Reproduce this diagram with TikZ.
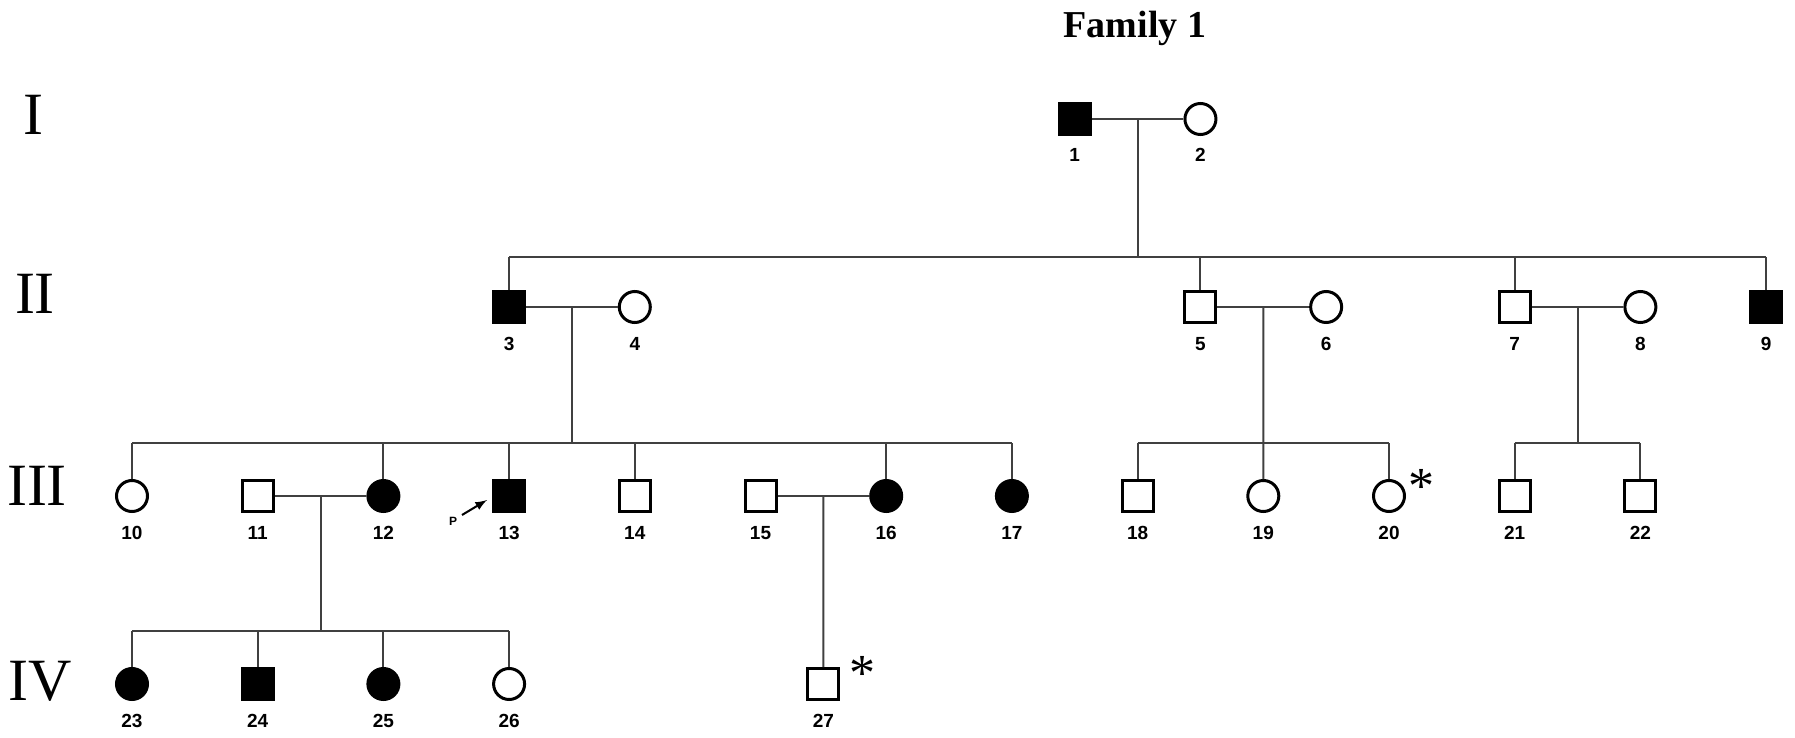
\documentclass[tikz,border=0pt]{standalone}
\usepackage{fontspec}
\setmainfont{Liberation Serif}
\setsansfont{Liberation Sans}
\usetikzlibrary{arrows,shapes,positioning,calc}

\tikzset{
  male/.style={draw,rectangle,minimum size=15.5pt,inner sep=0pt,line width=1.5pt},
  female/.style={draw,circle,minimum size=15.5pt,inner sep=0pt,line width=1.5pt},
  aff/.style={fill=black},
  num/.style={font=\sffamily\bfseries\fontsize{9.5}{9.5}\selectfont,inner sep=0pt,text height=6.8pt,text depth=0pt},
  rel/.style={line width=1pt,draw=black!75},
  gen/.style={font=\fontsize{30}{30}\selectfont,anchor=base,inner sep=0pt},
  ast/.style={font=\fontsize{26}{26}\selectfont,anchor=base,inner sep=0pt}
}

\begin{document}
\begin{tikzpicture}[x=0.5pt,y=-0.5pt,node distance=62.85pt,label distance=6pt,every label/.style={num}]
  \useasboundingbox (0,0) rectangle (1795,738);

  \node[font=\bfseries\fontsize{19}{19}\selectfont,anchor=base,inner sep=0pt] (title) at (1135,38) {Family 1};

  % generations
  \node[gen] (g1) at (33,134) {I};
  \node[gen] (g2) at (35,313) {II};
  \node[gen] (g3) at (37,505) {III};
  \node[gen] (g4) at (40,700) {IV};

  \coordinate (s2) at (0,257);
  \coordinate (s3) at (0,443);
  \coordinate (s4) at (0,631);

  % I
  \node[male,aff,label=below:1] (p1) at (1074.75,119) {};
  \node[female,right of=p1,label=below:2] (p2) {};

  % II
  \node[male,aff,label=below:3] (p3) at (509.1,307) {};
  \node[female,right of=p3,label=below:4] (p4) {};
  \node[male,label=below:5] (p5) at (1200.45,307) {};
  \node[female,right of=p5,label=below:6] (p6) {};
  \node[male,label=below:7] (p7) at (1514.7,307) {};
  \node[female,right of=p7,label=below:8] (p8) {};
  \node[male,aff,right of=p8,label=below:9] (p9) {};

  % III
  \node[female,label=below:10] (p10) at (132,496) {};
  \node[male,right of=p10,label=below:11] (p11) {};
  \node[female,aff,right of=p11,label=below:12] (p12) {};
  \node[male,aff,right of=p12,label=below:13] (p13) {};
  \node[male,right of=p13,label=below:14] (p14) {};
  \node[male,right of=p14,label=below:15] (p15) {};
  \node[female,aff,right of=p15,label=below:16] (p16) {};
  \node[female,aff,right of=p16,label=below:17] (p17) {};
  \node[male,right of=p17,label=below:18] (p18) {};
  \node[female,right of=p18,label=below:19] (p19) {};
  \node[female,right of=p19,label=below:20] (p20) {};
  \node[male,right of=p20,label=below:21] (p21) {};
  \node[male,right of=p21,label=below:22] (p22) {};

  % IV
  \node[female,aff,label=below:23] (p23) at (132,684) {};
  \node[male,aff,right of=p23,label=below:24] (p24) {};
  \node[female,aff,right of=p24,label=below:25] (p25) {};
  \node[female,right of=p25,label=below:26] (p26) {};
  \node[male,label=below:27] (p27) at (823.35,684) {};

  % I -> II
  \draw[rel] (p1) -- coordinate (m1) (p2);
  \draw[rel] (m1) -- (m1 |- s2);
  \draw[rel] (p3 |- s2) -- (p9 |- s2);
  \draw[rel] (p3) -- (p3 |- s2);
  \draw[rel] (p5) -- (p5 |- s2);
  \draw[rel] (p7) -- (p7 |- s2);
  \draw[rel] (p9) -- (p9 |- s2);

  % II -> III
  \draw[rel] (p3) -- coordinate (m3) (p4);
  \draw[rel] (m3) -- (m3 |- s3);
  \draw[rel] (p10 |- s3) -- (p17 |- s3);
  \draw[rel] (p10) -- (p10 |- s3);
  \draw[rel] (p12) -- (p12 |- s3);
  \draw[rel] (p13) -- (p13 |- s3);
  \draw[rel] (p14) -- (p14 |- s3);
  \draw[rel] (p16) -- (p16 |- s3);
  \draw[rel] (p17) -- (p17 |- s3);

  \draw[rel] (p5) -- coordinate (m5) (p6);
  \draw[rel] (m5) -- (p19);
  \draw[rel] (p18 |- s3) -- (p20 |- s3);
  \draw[rel] (p18) -- (p18 |- s3);
  \draw[rel] (p20) -- (p20 |- s3);

  \draw[rel] (p7) -- coordinate (m7) (p8);
  \draw[rel] (m7) -- (m7 |- s3);
  \draw[rel] (p21 |- s3) -- (p22 |- s3);
  \draw[rel] (p21) -- (p21 |- s3);
  \draw[rel] (p22) -- (p22 |- s3);

  % III -> IV
  \draw[rel] (p11) -- coordinate (m11) (p12);
  \draw[rel] (m11) -- (m11 |- s4);
  \draw[rel] (p23 |- s4) -- (p26 |- s4);
  \draw[rel] (p23) -- (p23 |- s4);
  \draw[rel] (p24) -- (p24 |- s4);
  \draw[rel] (p25) -- (p25 |- s4);
  \draw[rel] (p26) -- (p26 |- s4);

  \draw[rel] (p15) -- coordinate (m15) (p16);
  \draw[rel] (m15) -- (p27);

  % proband and marks
  \node[font=\sffamily\bfseries\fontsize{6}{6}\selectfont,inner sep=0pt] (pb) at (453,521) {P};
  \coordinate (pbtail) at (462,515);
  \coordinate (pbtip) at (487,500);
  \draw[-latex,line width=1pt] (pbtail) -- (pbtip);

  \node[ast] (a20) at (1421,503) {*};
  \node[ast] (a27) at (862,690) {*};
\end{tikzpicture}
\end{document}
